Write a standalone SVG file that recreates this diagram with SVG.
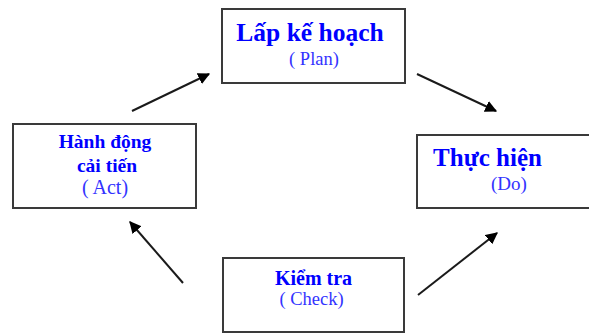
<svg xmlns="http://www.w3.org/2000/svg" width="589" height="333" viewBox="0 0 589 333">
<defs>
<style>
.box{fill:#fff;stroke:#3a3a3a;stroke-width:2}
.t{font-family:"Liberation Serif","Times New Roman",serif;fill:#0000ff;text-anchor:middle}
.b{font-weight:bold}
.s{fill:#3333ff}
.c{stroke:#1a1a1a;stroke-width:2;fill:none;marker-end:url(#ah)}
</style>
<marker id="ah" viewBox="0 0 10 10" refX="9" refY="5" markerWidth="6" markerHeight="6" markerUnits="strokeWidth" orient="auto">
<path d="M0,0 L10,5 L0,10 z" fill="#000"/>
</marker>
</defs>
<rect width="589" height="333" fill="#fff"/>
<g id="plan">
<rect class="box" x="222" y="9" width="183" height="74"/>
<text class="t b" x="310" y="41" font-size="25.5">Lấp kế hoạch</text>
<text class="t s" x="314" y="65" font-size="18.5">( Plan)</text>
</g>
<g id="do">
<rect class="box" x="417" y="135" width="176" height="73"/>
<text class="t b" x="487.5" y="166" font-size="25">Thực hiện</text>
<text class="t s" x="509" y="190" font-size="19">(Do)</text>
</g>
<g id="check">
<rect class="box" x="223" y="258" width="181" height="74"/>
<text class="t b" x="313.5" y="285" font-size="20">Kiểm tra</text>
<text class="t s" x="311.5" y="305" font-size="18.5">( Check)</text>
</g>
<g id="act">
<rect class="box" x="13" y="124" width="183" height="84"/>
<text class="t b" x="105" y="148" font-size="19.5">Hành động</text>
<text class="t b" x="107" y="172" font-size="19.5">cải tiến</text>
<text class="t s" x="105" y="194" font-size="20">( Act)</text>
</g>
<g id="connectors">
<line class="c" x1="132" y1="111" x2="209" y2="74"/>
<line class="c" x1="417" y1="74" x2="496" y2="111"/>
<line class="c" x1="418" y1="295" x2="497" y2="233"/>
<line class="c" x1="183" y1="283" x2="130" y2="222"/>
</g>
</svg>
